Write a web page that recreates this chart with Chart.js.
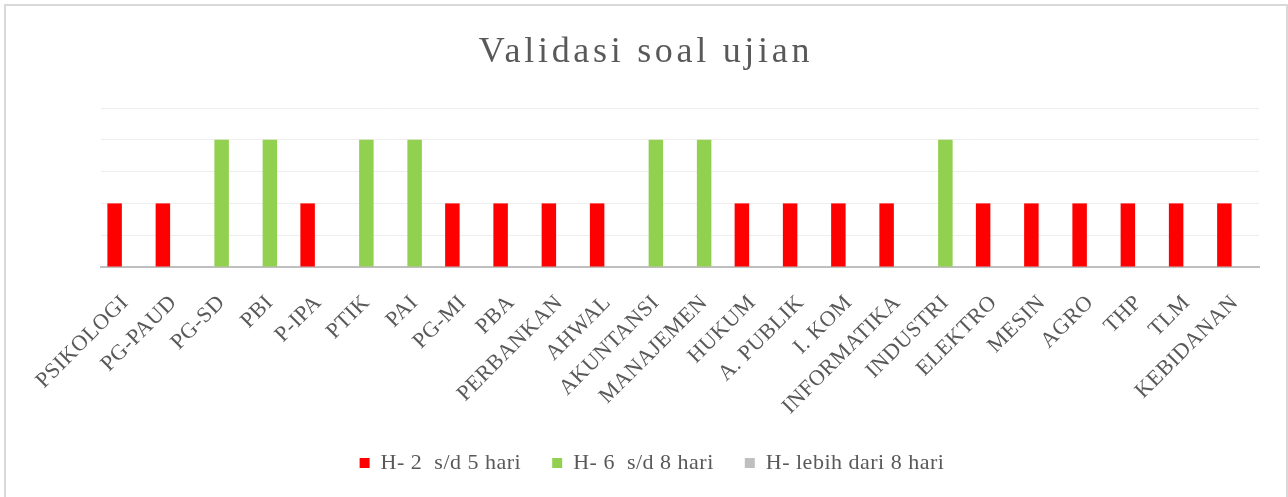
<!DOCTYPE html>
<html>
<head>
<meta charset="utf-8">
<script src="https://cdn.jsdelivr.net/npm/chart.js@4"></script>
<style>
	html, body { margin: 0; padding: 0; background: #fff; }
	#wrap { position: relative; width: 1288px; height: 497px; overflow: hidden; }
	#frame { position: absolute; left: 4px; top: 4px; width: 1280px; height: 520px; border: 2px solid #d9d9d9; border-bottom: none; }
	canvas { position: absolute; left: 0; top: 0; }
</style>
</head>
<body>
<div id="wrap">
	<div id="frame"></div>
	<canvas id="chart" width="1288" height="497"></canvas>
</div>
<script>
// data
const categories = ["PSIKOLOGI", "PG-PAUD", "PG-SD", "PBI", "P-IPA", "PTIK", "PAI", "PG-MI", "PBA", "PERBANKAN", "AHWAL", "AKUNTANSI", "MANAJEMEN", "HUKUM", "A. PUBLIK", "I. KOM", "INFORMATIKA", "INDUSTRI", "ELEKTRO", "MESIN", "AGRO", "THP", "TLM", "KEBIDANAN"];
const seriesNames = ["H- 2  s/d 5 hari", "H- 6  s/d 8 hari", "H- lebih dari 8 hari"];
const days2to5 = [2, 2, 0, 0, 2, 0, 0, 2, 2, 2, 2, 0, 0, 2, 2, 2, 2, 0, 2, 2, 2, 2, 2, 2];
const days6to8 = [0, 0, 4, 4, 0, 4, 4, 0, 0, 0, 0, 4, 4, 0, 0, 0, 0, 4, 0, 0, 0, 0, 0, 0];
const daysOver8 = [0, 0, 0, 0, 0, 0, 0, 0, 0, 0, 0, 0, 0, 0, 0, 0, 0, 0, 0, 0, 0, 0, 0, 0];
const yTicks = [0, 1, 2, 3, 4, 5];
const titleText = "Validasi soal ujian";

const red = "#ff0000";
const green = "#92d050";
const gray = "#bfbfbf";
const textColor = "#595959";
const serif = "'Liberation Serif', 'Times New Roman', serif";

// slight letter spacing for axis + legend text, title drawn by hand with wider spacing
const textPlugin = {
	id: "wideText",
	beforeLayout(chart) { chart.ctx.letterSpacing = "0.5px"; },
	beforeDraw(chart) { chart.ctx.letterSpacing = "0.5px"; },
	afterDraw(chart) {
		const ctx = chart.ctx;
		ctx.save();
		ctx.letterSpacing = "3.7px";
		ctx.font = "36px " + serif;
		ctx.fillStyle = textColor;
		ctx.textAlign = "center";
		ctx.textBaseline = "alphabetic";
		ctx.fillText(titleText, 646, 62);
		ctx.restore();
	}
};

const makeSet = (label, data, color) => ({
	label: label,
	data: data,
	backgroundColor: color,
	borderWidth: 0,
	categoryPercentage: 0.653,
	barPercentage: 1.38
});

new Chart(document.getElementById("chart"), {
	type: "bar",
	data: {
		labels: categories,
		datasets: [
			makeSet(seriesNames[0], days2to5, red),
			makeSet(seriesNames[1], days6to8, green),
			makeSet(seriesNames[2], daysOver8, gray)
		]
	},
	plugins: [textPlugin],
	options: {
		responsive: false,
		animation: false,
		layout: { padding: { left: 45, right: 29, top: 108, bottom: 13 } },
		plugins: {
			title: { display: false },
			tooltip: { enabled: false },
			legend: {
				position: "bottom",
				labels: {
					boxWidth: 10,
					boxHeight: 10,
					padding: 31,
					color: textColor,
					font: { family: serif, size: 22 }
				}
			}
		},
		scales: {
			x: {
				afterFit(axis) { axis.height = 154; },
				grid: { display: false, drawTicks: false },
				border: { color: "#bfbfbf", width: 2 },
				ticks: {
					autoSkip: false,
					minRotation: 45,
					maxRotation: 45,
					padding: 23,
					color: textColor,
					font: { family: serif, size: 22 }
				}
			},
			y: {
				afterFit(axis) { axis.width = 56; },
				min: yTicks[0],
				max: yTicks[yTicks.length - 1],
				afterBuildTicks(axis) { axis.ticks = yTicks.map(v => ({ value: v })); },
				ticks: { display: false },
				grid: { color: "#eeeeee", drawTicks: false },
				border: { display: false }
			}
		}
	}
});
</script>
</body>
</html>
